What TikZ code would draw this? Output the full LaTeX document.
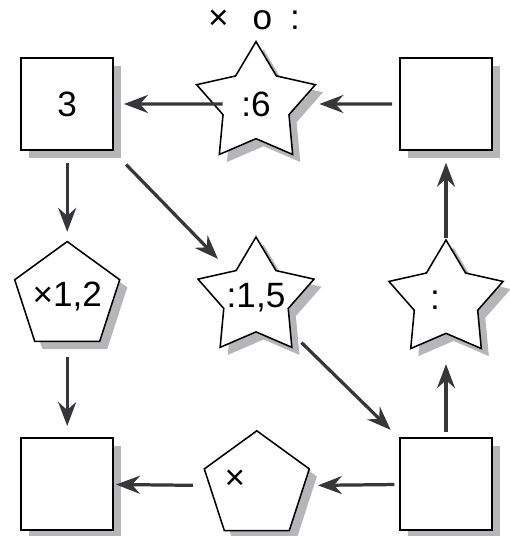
\documentclass[tikz,border=0pt]{standalone}
\usepackage{fontspec}
\setmainfont{Liberation Sans}
\usepackage{tikz}
\usetikzlibrary{arrows.meta,positioning,shapes.geometric,shadows}
\definecolor{arrowgray}{RGB}{55,55,58}
\definecolor{shadowgray}{RGB}{182,182,184}

\begin{document}
\begin{tikzpicture}[
  font=\fontsize{25}{28}\selectfont,
  dshadow/.style={drop shadow={shadow xshift=0.19cm, shadow yshift=-0.19cm, fill=shadowgray, opacity=1}},
  box/.style={draw, line width=1.1pt, fill=white, dshadow, minimum size=2.3cm, inner sep=0pt},
  starop/.style={star, star points=5, star point ratio=1.8, draw, line width=1.1pt, fill=white, dshadow, inner sep=0pt},
  pentop/.style={regular polygon, regular polygon sides=5, draw, line width=1.1pt, fill=white, dshadow, minimum size=2.76cm, inner sep=0pt},
  arr/.style={-{Stealth[length=0.6cm, width=0.45cm, inset=0.2cm]}, line width=2.3pt, draw=arrowgray, color=arrowgray},
]
\useasboundingbox (0,0) rectangle (12.725,13.4);

% top row
\node[box] (sq3) at (1.68,10.8) {3};
\node[starop, minimum size=3.12cm] (startop) at (6.40,10.8) {\makebox[0pt]{:6}};
\node[box] (sqtr) at (11.15,10.8) {};
\node (ops) at (6.35,12.9) {×\kern0.6cm o\kern0.45cm:};

% middle row
\node[pentop] (pentl) at (1.68,5.98) {\makebox[0pt]{×1,2}};
\node[starop, minimum size=3.05cm] (starmid) at (6.40,5.95) {\makebox[0pt]{:1,5}};
\node[starop, minimum size=3.0cm] (starr) at (11.15,5.9) {\makebox[0pt]{:\kern0.55cm}};

% bottom row
\node[box] (sqbl) at (1.68,1.3) {};
\node[pentop] (pentb) at (6.42,1.25) {\makebox[0pt]{\raisebox{0.3cm}{×}\kern1.1cm}};
\node[box] (sqbr) at (11.15,1.3) {};

\draw[arr, shorten <=0.18cm, shorten >=0.5cm] (sqtr) -- (startop);
\draw[arr, shorten <=-0.25cm, shorten >=0.25cm] (startop) -- (sq3);
\draw[arr, shorten <=0.3cm, shorten >=0.22cm] (sq3) -- (pentl);
\draw[arr, shorten <=0.48cm, shorten >=0.43cm] (sq3) -- (starmid);
\draw[arr, shorten <=0.38cm, shorten >=0.28cm] (pentl) -- (sqbl);
\draw[arr, shorten <=0.36cm, shorten >=0.3cm] (starmid) -- (sqbr);
\draw[arr, shorten <=0.12cm, shorten >=0.75cm] (sqbr) -- (starr);
\draw[arr, shorten >=0.3cm] (starr) -- (sqtr);
\draw[arr, shorten <=0.12cm, shorten >=0.33cm] (sqbr) -- (pentb);
\draw[arr, shorten <=0.4cm, shorten >=0.05cm] (pentb) -- (sqbl);
\end{tikzpicture}
\end{document}
